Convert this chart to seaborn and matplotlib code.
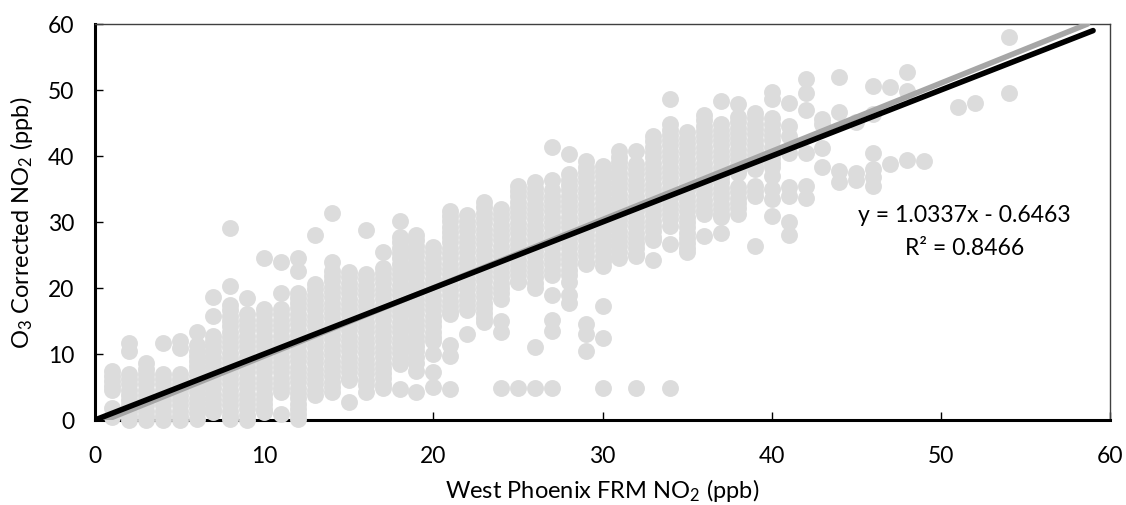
import matplotlib
matplotlib.use("Agg")
import matplotlib.pyplot as plt
import pandas as pd
import seaborn as sns

xlabel_text = r"West Phoenix FRM NO$_{2}$ (ppb)"
ylabel_text = r"O$_{3}$ Corrected NO$_{2}$ (ppb)"
equation_text = "y = 1.0337x - 0.6463"
r2_text = "R² = 0.8466"
tick_values = [0, 10, 20, 30, 40, 50, 60]

slope = 1.0337
intercept = -0.6463
trend_x = [0.63, 58.67]
trend_y = [slope * v + intercept for v in trend_x]
one_to_one_x = [0, 59]
one_to_one_y = [0, 59]

y01 = [7.5, 6.7, 5.9, 5.1, 4.6, 1.8, 0.5]
y02 = [11.7, 10.4, 7.0, 6.2, 5.4, 4.6, 3.8, 3.0, 2.2, 1.4, 0.6, 0.0]
y03 = [8.6, 7.8, 7.0, 6.2, 5.4, 4.6, 3.8, 3.0, 2.2, 1.4, 0.6, 0.0]
y04 = [11.6, 7.0, 6.2, 5.4, 4.6, 3.8, 3.0, 2.2, 1.4, 0.6, 0.0]
y05 = [11.9, 10.9, 7.0, 6.2, 5.4, 4.6, 3.8, 3.0, 2.2, 1.4, 0.6, 0.0]
y06 = [13.4, 11.3, 10.5, 9.7, 8.9, 8.2, 7.4, 6.6, 5.8, 5.0, 4.2, 3.4, 2.6, 1.8, 1.0, 0.2]
y07 = [18.6, 15.7, 12.8, 12.0, 11.2, 10.4, 9.6, 8.8, 8.0, 7.2, 6.4, 5.6, 4.8, 4.0, 3.2, 2.4, 1.7, 1.2]
y08 = [29.1, 20.3, 17.4, 16.6, 15.8, 15.0, 14.2, 13.4, 12.6, 11.8, 11.0, 10.2, 9.4, 8.6, 7.8, 7.0, 6.2, 5.4, 4.6, 3.8, 3.0, 2.2, 1.4, 0.6, 0.1]
y09 = [18.5, 16.0, 15.2, 14.4, 13.6, 12.8, 12.0, 11.2, 10.4, 9.6, 8.8, 8.0, 7.2, 6.4, 5.6, 4.8, 4.0, 3.2, 2.4, 1.6, 0.8, 0.0]
y10 = [24.6, 16.8, 16.0, 15.2, 14.4, 13.6, 12.8, 12.0, 11.2, 10.4, 9.6, 8.8, 8.0, 7.2, 6.4, 5.6, 4.8, 4.0, 3.2, 2.4, 1.7, 1.2]
y11 = [23.9, 19.2, 16.8, 16.0, 15.2, 14.4, 13.6, 12.8, 12.0, 11.2, 10.4, 9.6, 8.8, 8.0, 7.2, 6.4, 5.6, 4.8, 4.3, 0.9]
y12 = [24.6, 22.6, 19.3, 18.5, 17.7, 16.9, 16.1, 15.3, 14.5, 13.7, 12.9, 12.1, 11.3, 10.5, 9.7, 8.9, 8.1, 7.3, 6.5, 5.7, 4.9, 4.1, 3.3, 2.5, 1.7, 0.9, 0.1]
y13 = [28.0, 20.6, 19.8, 19.0, 18.2, 17.4, 16.6, 15.8, 15.0, 14.2, 13.4, 12.6, 11.8, 11.0, 10.2, 9.4, 8.6, 7.8, 7.0, 6.2, 5.4, 4.6, 3.8]
y14 = [31.3, 24.0, 22.6, 21.8, 21.0, 20.2, 19.4, 18.6, 17.8, 17.0, 16.2, 15.4, 14.6, 13.8, 13.0, 12.2, 11.4, 10.6, 9.8, 9.0, 8.2, 7.4, 6.6, 5.8, 5.0, 4.3]
y15 = [22.4, 21.6, 20.8, 20.0, 19.2, 18.4, 17.6, 16.8, 16.0, 15.2, 14.4, 13.6, 12.8, 12.0, 11.2, 10.4, 9.6, 8.8, 8.0, 7.2, 6.4, 6.0, 2.7]
y16 = [28.8, 22.1, 21.3, 20.5, 19.7, 18.9, 18.1, 17.3, 16.5, 15.7, 14.9, 14.1, 13.3, 12.5, 11.7, 10.9, 10.1, 9.3, 8.5, 7.7, 6.9, 6.1, 5.3, 4.3]
y17 = [25.5, 23.1, 22.3, 21.5, 20.7, 19.9, 19.1, 18.3, 17.5, 16.7, 15.9, 15.1, 14.3, 13.5, 12.7, 11.9, 11.1, 10.3, 9.5, 8.7, 7.9, 7.1, 6.3, 5.5, 4.8]
y18 = [30.1, 27.7, 26.9, 26.1, 25.3, 24.5, 23.7, 22.9, 22.1, 21.3, 20.5, 19.7, 18.9, 18.1, 17.3, 16.5, 15.7, 14.9, 14.1, 13.3, 12.5, 11.7, 10.9, 10.1, 9.3, 8.5, 4.7]
y19 = [28.0, 27.2, 26.4, 25.6, 24.8, 24.0, 23.2, 22.4, 21.6, 20.8, 20.0, 19.2, 18.4, 17.6, 16.8, 16.0, 15.2, 14.4, 13.6, 12.8, 12.0, 11.2, 10.4, 9.6, 8.7, 7.5, 4.3]
y20 = [26.2, 25.4, 24.6, 23.8, 23.0, 22.2, 21.4, 20.6, 19.8, 19.0, 18.2, 17.4, 16.6, 15.8, 15.0, 14.2, 13.4, 12.6, 12.0, 10.0, 7.2, 5.0]
y21 = [31.7, 30.9, 30.1, 29.3, 28.5, 27.7, 26.9, 26.1, 25.3, 24.5, 23.7, 22.9, 22.1, 21.3, 20.5, 19.7, 18.9, 18.1, 17.3, 16.5, 16.0, 11.3, 9.7, 4.7]
y22 = [31.0, 30.2, 29.4, 28.6, 27.8, 27.0, 26.2, 25.4, 24.6, 23.8, 23.0, 22.2, 21.4, 20.6, 19.8, 19.0, 18.2, 17.4, 16.6, 13.0]
y23 = [33.0, 32.2, 31.4, 30.6, 29.8, 29.0, 28.2, 27.4, 26.6, 25.8, 25.0, 24.2, 23.4, 22.6, 21.8, 21.0, 20.2, 19.4, 18.6, 17.8, 17.0, 16.2, 15.4, 14.8]
y24 = [32.0, 31.2, 30.4, 29.6, 28.8, 28.0, 27.2, 26.4, 25.6, 24.8, 24.0, 23.2, 22.4, 21.6, 20.8, 20.0, 19.2, 18.3, 15.0, 13.3, 4.8]
y25 = [35.5, 34.7, 33.9, 33.1, 32.3, 31.5, 30.7, 29.9, 29.1, 28.3, 27.5, 26.7, 25.9, 25.1, 24.3, 23.5, 22.7, 21.9, 21.1, 20.9, 4.8]
y26 = [36.0, 35.2, 34.4, 33.6, 32.8, 32.0, 31.2, 30.4, 29.6, 28.8, 28.0, 27.2, 26.4, 25.6, 24.8, 24.0, 23.2, 22.4, 21.6, 20.8, 20.0, 11.0, 4.8]
y27 = [41.3, 36.3, 34.8, 34.0, 33.2, 32.4, 31.6, 30.8, 30.0, 29.2, 28.4, 27.6, 26.8, 26.0, 25.2, 24.4, 23.6, 22.8, 21.9, 19.0, 15.2, 13.5, 4.8]
y28 = [40.3, 37.2, 36.4, 35.6, 34.8, 34.0, 33.2, 32.4, 31.6, 30.8, 30.0, 29.2, 28.4, 27.6, 26.8, 26.0, 25.2, 24.4, 23.6, 22.8, 22.0, 20.9, 19.0, 17.8]
y29 = [39.2, 38.4, 37.6, 36.8, 36.0, 35.2, 34.4, 33.6, 32.8, 32.0, 31.2, 30.4, 29.6, 28.8, 28.0, 27.2, 26.4, 25.6, 24.8, 24.0, 23.6, 14.5, 13.0, 10.4]
y30 = [38.5, 37.7, 36.9, 36.1, 35.3, 34.5, 33.7, 32.9, 32.1, 31.3, 30.5, 29.7, 28.9, 28.1, 27.3, 26.5, 25.7, 24.9, 24.1, 23.4, 17.2, 12.5, 4.8]
y31 = [40.7, 39.9, 39.1, 38.3, 37.5, 36.7, 35.9, 35.1, 34.3, 33.5, 32.7, 31.9, 31.1, 30.3, 29.5, 28.7, 27.9, 27.1, 26.3, 25.5, 24.6]
y32 = [40.8, 38.8, 38.0, 37.2, 36.4, 35.6, 34.8, 34.0, 33.2, 32.4, 31.6, 30.8, 30.0, 29.2, 28.4, 27.6, 26.8, 26.0, 25.2, 24.8, 4.8]
y33 = [43.0, 42.2, 41.4, 40.6, 39.8, 39.0, 38.2, 37.4, 36.6, 35.8, 35.0, 34.2, 33.4, 32.6, 31.8, 31.0, 30.2, 29.4, 28.6, 27.8, 27.2, 24.3]
y34 = [48.7, 44.8, 44.0, 43.2, 42.4, 41.6, 40.8, 40.0, 39.2, 38.4, 37.6, 36.8, 36.0, 35.2, 34.4, 33.6, 32.8, 32.0, 31.2, 30.4, 29.4, 26.7, 4.8]
y35 = [43.6, 42.8, 42.0, 41.2, 40.4, 39.6, 38.8, 38.0, 37.2, 36.4, 35.6, 34.8, 34.0, 33.2, 32.4, 31.6, 30.8, 30.0, 29.2, 28.4, 27.6, 26.8, 26.0, 25.4]
y36 = [46.2, 45.4, 44.6, 43.8, 43.0, 42.2, 41.4, 40.6, 39.8, 39.0, 38.2, 37.4, 36.6, 35.8, 35.0, 34.2, 33.4, 32.6, 31.8, 31.2, 27.9]
y37 = [48.4, 44.8, 44.0, 43.2, 42.4, 41.6, 40.8, 40.0, 39.2, 38.4, 37.6, 36.8, 36.0, 35.2, 34.4, 33.6, 32.8, 32.0, 31.2, 30.7, 28.3]
y38 = [47.9, 45.9, 45.1, 44.3, 43.5, 42.7, 41.9, 41.1, 40.3, 39.5, 38.7, 37.9, 37.5, 35.3, 34.5, 33.7, 32.9, 32.1, 31.2]
y39 = [46.5, 45.7, 44.9, 44.1, 43.3, 42.5, 41.7, 40.9, 40.1, 39.3, 38.5, 38.0, 35.5, 34.7, 33.9, 26.4]
y40 = [49.7, 48.6, 45.7, 44.9, 44.0, 43.2, 42.4, 41.3, 40.5, 39.7, 38.9, 38.3, 37.0, 35.0, 33.5, 30.9]
y41 = [48.1, 44.5, 43.0, 40.5, 35.3, 34.0, 30.0, 28.0]
y42 = [51.7, 49.6, 47.0, 40.5, 35.5, 33.7]
y43 = [45.6, 44.9, 41.2, 38.3]
y44 = [51.9, 46.6, 37.8, 36.1]
y45 = [45.1, 37.5, 36.3]
y46 = [50.6, 46.4, 40.5, 38.0, 36.8, 35.5]
y47 = [50.4, 38.8]
y48 = [52.7, 49.9, 39.4]
y49 = [39.2]
y51 = [47.5]
y52 = [48.1]
y54 = [58.0, 49.5]

x_values = list(range(1, 50)) + [51, 52, 54]
y_columns = [y01, y02, y03, y04, y05, y06, y07, y08, y09, y10, y11, y12, y13,
             y14, y15, y16, y17, y18, y19, y20, y21, y22, y23, y24, y25, y26,
             y27, y28, y29, y30, y31, y32, y33, y34, y35, y36, y37, y38, y39,
             y40, y41, y42, y43, y44, y45, y46, y47, y48, y49, y51, y52, y54]

rows = [(x, y) for x, col in zip(x_values, y_columns) for y in col]
df = pd.DataFrame(rows, columns=["frm", "corrected"])

sns.set_theme(style="white")
plt.rcParams["font.family"] = ["Lato", "DejaVu Sans"]
plt.rcParams["mathtext.default"] = "regular"

fig = plt.figure(figsize=(11.26, 5.06), dpi=100)
ax = fig.add_axes([95 / 1126, (506 - 421) / 506, (1110 - 95) / 1126, (421 - 25) / 506])

sns.scatterplot(data=df, x="frm", y="corrected", s=148, color="#DCDCDC",
                linewidth=0, clip_on=False, zorder=3, ax=ax)
ax.plot(trend_x, trend_y, color="#A6A6A6", lw=4.0, solid_capstyle="round", zorder=4)
ax.plot(one_to_one_x, one_to_one_y, color="black", lw=4.0, solid_capstyle="round", zorder=5)

ax.set_xlim(0, 60)
ax.set_ylim(0, 60)
ax.set_xticks(tick_values)
ax.set_yticks(tick_values)
ax.tick_params(axis="x", direction="in", length=6, width=1, color="black",
               labelsize=16.5, labelcolor="black", pad=18, bottom=True)
ax.tick_params(axis="y", direction="in", length=6, width=1, color="black",
               labelsize=16.5, labelcolor="black", pad=15, left=True)
ax.set_xlabel(xlabel_text, fontsize=17, color="black", labelpad=7)
ax.set_ylabel(ylabel_text, fontsize=17, color="black", labelpad=9)

for side in ("left", "bottom"):
    ax.spines[side].set_linewidth(2.2)
    ax.spines[side].set_color("black")
for side in ("top", "right"):
    ax.spines[side].set_linewidth(1.0)
    ax.spines[side].set_color("#404040")

ax.text(51.4, 31.2, equation_text, ha="center", va="center", fontsize=16.6, color="black", zorder=6)
ax.text(51.4, 26.2, r2_text, ha="center", va="center", fontsize=16.6, color="black", zorder=6)

fig.savefig("out.png", dpi=100)
